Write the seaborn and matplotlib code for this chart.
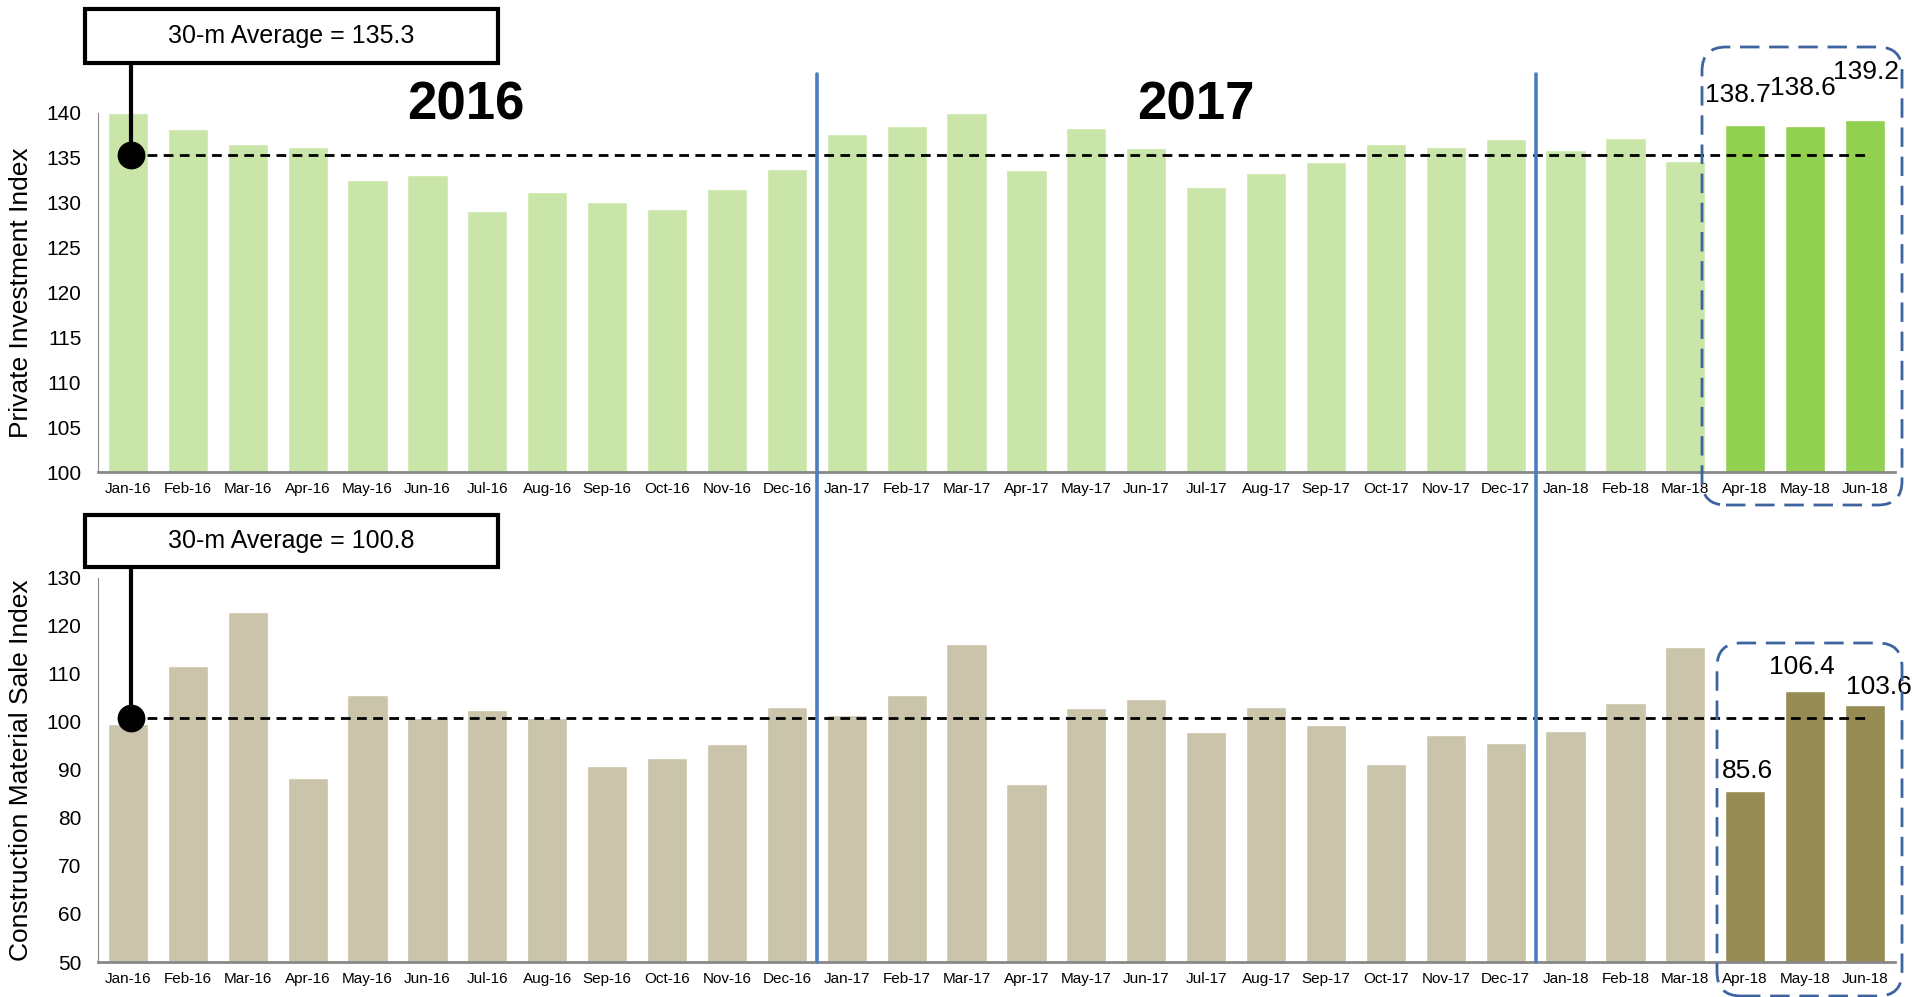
import numpy as np
import pandas as pd
import seaborn as sns
import matplotlib.pyplot as plt
from matplotlib.patches import Rectangle, FancyBboxPatch
from matplotlib.lines import Line2D

sns.set_style('white')
plt.rcParams['font.family'] = ['Liberation Sans', 'DejaVu Sans']
plt.rcParams['text.color'] = 'black'
plt.rcParams['axes.labelcolor'] = 'black'

# data
months = ['Jan-16', 'Feb-16', 'Mar-16', 'Apr-16', 'May-16', 'Jun-16',
          'Jul-16', 'Aug-16', 'Sep-16', 'Oct-16', 'Nov-16', 'Dec-16',
          'Jan-17', 'Feb-17', 'Mar-17', 'Apr-17', 'May-17', 'Jun-17',
          'Jul-17', 'Aug-17', 'Sep-17', 'Oct-17', 'Nov-17', 'Dec-17',
          'Jan-18', 'Feb-18', 'Mar-18', 'Apr-18', 'May-18', 'Jun-18']
invest = [140.0, 138.2, 136.5, 136.2, 132.5, 133.1, 129.1, 131.2, 130.1, 129.3,
          131.5, 133.8, 137.7, 138.5, 140.0, 133.6, 138.3, 136.1, 131.7, 133.3,
          134.5, 136.5, 136.2, 137.1, 135.9, 137.2, 134.7, 138.7, 138.6, 139.2]
material = [99.5, 111.7, 122.9, 88.3, 105.5, 100.7, 102.5, 100.7, 90.7, 92.4,
            95.3, 103.0, 101.4, 105.5, 116.1, 87.0, 102.9, 104.7, 97.8, 103.1,
            99.4, 91.3, 97.2, 95.5, 98.0, 103.9, 115.5, 85.6, 106.4, 103.6]
invest_avg = 135.3
material_avg = 100.8
recent = ['Apr-18', 'May-18', 'Jun-18']
years = ['2016', '2017']

# label nudges in pixels (dx, dy) for the last three bars
invest_nudge = [(-7, 30), (-2, 38), (1, 48)]
material_nudge = [(2, 20), (-3, 24), (14, 18)]

W, H = 1923, 997
fig = plt.figure(figsize=(W / 100, H / 100), dpi=100)


def fx(x):
    return x / W


def fy(y):
    return 1 - y / H


ax1 = fig.add_axes([fx(98), fy(472), fx(1895) - fx(98), fy(113) - fy(472)])
ax2 = fig.add_axes([fx(98), fy(962), fx(1895) - fx(98), fy(577.7) - fy(962)])

df = pd.DataFrame({'month': months, 'invest': invest, 'material': material})
pal_top = {m: ('#92D050' if m in recent else '#C9E6A8') for m in months}
pal_bot = {m: ('#968B53' if m in recent else '#C9C4AA') for m in months}

sns.barplot(data=df, x='month', y='invest', hue='month', palette=pal_top,
            width=0.67, saturation=1, legend=False, ax=ax1)
sns.barplot(data=df, x='month', y='material', hue='month', palette=pal_bot,
            width=0.67, saturation=1, legend=False, ax=ax2)

ax1.set_ylim(100, 140)
ax1.set_yticks(np.arange(100, 141, 5))
ax2.set_ylim(50, 130)
ax2.set_yticks(np.arange(50, 131, 10))

for ax, lab, avg, col, nudge in [(ax1, 'Private Investment Index', invest_avg, 'invest', invest_nudge),
                                 (ax2, 'Construction Material Sale Index', material_avg, 'material', material_nudge)]:
    ax.set_xlim(-0.5, 29.5)
    ax.set_xlabel('')
    ax.set_ylabel(lab, fontsize=19, color='black')
    ax.yaxis.set_label_coords(-0.036, 0.5)
    ax.tick_params(axis='x', length=0, labelsize=11, pad=7, labelcolor='black')
    ax.tick_params(axis='y', length=4, width=1, color='#888888', labelsize=15, pad=8,
                   labelcolor='black')
    sns.despine(ax=ax)
    ax.spines['left'].set_color('#888888')
    ax.spines['bottom'].set_color('#888888')
    ax.spines['bottom'].set_linewidth(2)
    # average line with dot
    ax.hlines(avg, 0.05, 29, colors='black', linestyles=(0, (3.5, 2.3)), lw=2, zorder=3)
    ax.plot(0.05, avg, 'o', ms=19, color='black', clip_on=False, zorder=4)
    # value labels for recent months
    for k, m in enumerate(recent):
        i = months.index(m)
        v = df.loc[i, col]
        ax.annotate(f'{v:.1f}', xy=(i, v), xytext=nudge[k], textcoords='offset pixels',
                    ha='center', va='center', fontsize=19, color='black',
                    annotation_clip=False)

# year labels
fig.text(fx(466), fy(119), years[0], ha='center', va='baseline', fontsize=38,
         fontweight='bold', color='black')
fig.text(fx(1196), fy(119), years[1], ha='center', va='baseline', fontsize=38,
         fontweight='bold', color='black')

# year separators
for xb in [11.5, 23.5]:
    xd = ax1.transData.transform((xb, 0))[0] / fig.bbox.width
    fig.add_artist(Line2D([xd, xd], [fy(962), fy(74)], color='#4A7EC0', lw=2.6))

# average call-out boxes
for (y0, y1, ydot, txt) in [(9, 63, 158, f'30-m Average = {invest_avg}'),
                            (515, 567, 718, f'30-m Average = {material_avg}')]:
    fig.add_artist(Line2D([fx(131), fx(131)], [fy(y1), fy(ydot)], color='black', lw=3))
    fig.add_artist(Rectangle((fx(85), fy(y1)), fx(498) - fx(85), fy(y0) - fy(y1),
                             transform=fig.transFigure, facecolor='white',
                             edgecolor='black', lw=3))
    fig.text(fx(291), fy((y0 + y1) / 2), txt, ha='center', va='center', fontsize=18,
             color='black')

# dashed highlight frames
for (x0, x1, y0, y1) in [(1702, 1902, 47, 505), (1717, 1902, 643, 996)]:
    fig.add_artist(FancyBboxPatch((fx(x0), fy(y1)), fx(x1) - fx(x0), fy(y0) - fy(y1),
                                  boxstyle=f'round,pad=0,rounding_size={24 / W}',
                                  mutation_aspect=W / H, transform=fig.transFigure,
                                  fill=False, edgecolor='#3E64A0', lw=2,
                                  linestyle=(0, (7, 3.5))))

plt.savefig('out.png', dpi=100)
